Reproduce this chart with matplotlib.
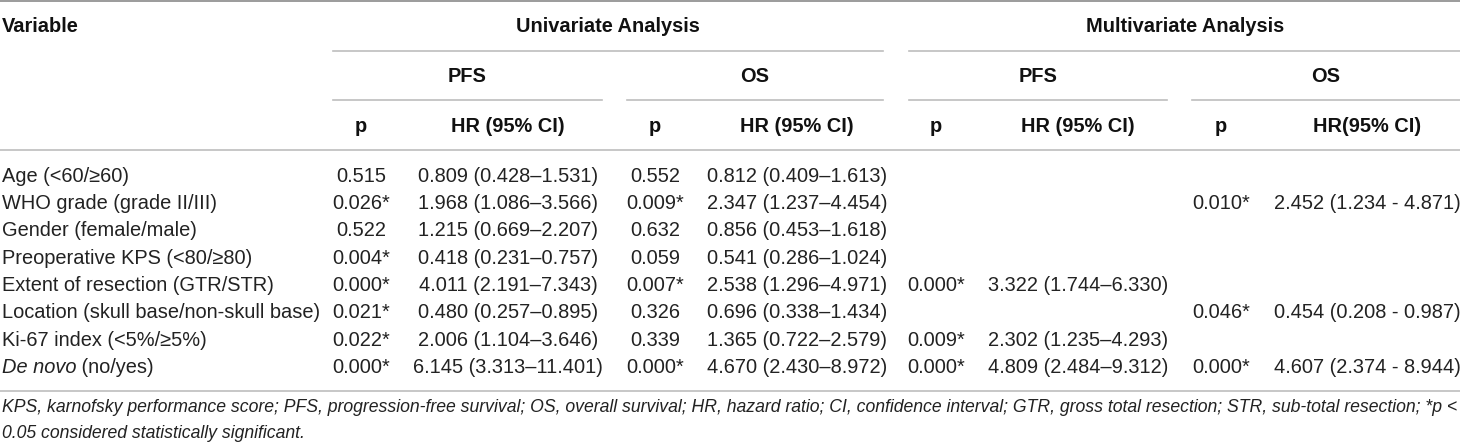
import matplotlib
matplotlib.use("Agg")
import matplotlib.pyplot as plt

plt.rcParams['font.family'] = ['Liberation Sans', 'DejaVu Sans']

variables = ["Age (<60/≥60)", "WHO grade (grade II/III)", "Gender (female/male)",
             "Preoperative KPS (<80/≥80)", "Extent of resection (GTR/STR)",
             "Location (skull base/non-skull base)", "Ki-67 index (<5%/≥5%)", "De novo"]
uni_pfs_p = ["0.515", "0.026*", "0.522", "0.004*", "0.000*", "0.021*", "0.022*", "0.000*"]
uni_pfs_hr = ["0.809 (0.428–1.531)", "1.968 (1.086–3.566)", "1.215 (0.669–2.207)",
              "0.418 (0.231–0.757)", "4.011 (2.191–7.343)", "0.480 (0.257–0.895)",
              "2.006 (1.104–3.646)", "6.145 (3.313–11.401)"]
uni_os_p = ["0.552", "0.009*", "0.632", "0.059", "0.007*", "0.326", "0.339", "0.000*"]
uni_os_hr = ["0.812 (0.409–1.613)", "2.347 (1.237–4.454)", "0.856 (0.453–1.618)",
             "0.541 (0.286–1.024)", "2.538 (1.296–4.971)", "0.696 (0.338–1.434)",
             "1.365 (0.722–2.579)", "4.670 (2.430–8.972)"]
multi_pfs_p = ["", "", "", "", "0.000*", "", "0.009*", "0.000*"]
multi_pfs_hr = ["", "", "", "", "3.322 (1.744–6.330)", "", "2.302 (1.235–4.293)",
                "4.809 (2.484–9.312)"]
multi_os_p = ["", "0.010*", "", "", "", "0.046*", "", "0.000*"]
multi_os_hr = ["", "2.452 (1.234 - 4.871)", "", "", "", "0.454 (0.208 - 0.987)", "",
               "4.607 (2.374 - 8.944)"]
col_heads = ["p", "HR (95% CI)", "p", "HR (95% CI)", "p", "HR (95% CI)", "p", "HR(95% CI)"]
footnote = ["KPS, karnofsky performance score; PFS, progression-free survival; OS, overall survival; "
            "HR, hazard ratio; CI, confidence interval; GTR, gross total resection; STR, sub-total resection; *p <",
            "0.05 considered statistically significant."]

columns = [uni_pfs_p, uni_pfs_hr, uni_os_p, uni_os_hr,
           multi_pfs_p, multi_pfs_hr, multi_os_p, multi_os_hr]
col_x = [361, 508, 655, 797, 936, 1078, 1221, 1367]

fs = 14.4
txt = '#222222'

fig = plt.figure(figsize=(14.6, 4.48), dpi=100)
ax = fig.add_axes([0, 0, 1, 1])
ax.set_xlim(0, 1460)
ax.set_ylim(448, 0)
ax.axis('off')

# rules
ax.plot([0, 1460], [1, 1], color='#8a8a8a', lw=1.2)
ax.plot([0, 1460], [150, 150], color='#bdbdbd', lw=1.2)
ax.plot([0, 1460], [391, 391], color='#bdbdbd', lw=1.2)
for x0, x1 in [(333, 883), (909, 1460)]:
    ax.plot([x0, x1], [51, 51], color='#bdbdbd', lw=1.2)
for x0, x1 in [(333, 602), (627, 883), (909, 1167), (1192, 1460)]:
    ax.plot([x0, x1], [100, 100], color='#bdbdbd', lw=1.2)

# headers
hd = dict(fontsize=fs, fontweight='bold', va='center', color='#111111')
ax.text(2, 27, "Variable", ha='left', **hd)
ax.text(608, 27, "Univariate Analysis", ha='center', **hd)
ax.text(1185, 27, "Multivariate Analysis", ha='center', **hd)
for x, s in zip([467, 755, 1038, 1326], ["PFS", "OS", "PFS", "OS"]):
    ax.text(x, 77, s, ha='center', **hd)
for x, s in zip(col_x, col_heads):
    ax.text(x, 127, s, ha='center', **hd)

# body
row_y = [176 + 27.4 * i for i in range(len(variables))]
fig.canvas.draw()
r = fig.canvas.get_renderer()
for i, (name, y) in enumerate(zip(variables, row_y)):
    if name == "De novo":
        t = ax.text(2, y, name, ha='left', va='center', fontsize=fs, style='italic', color=txt)
        bb = t.get_window_extent(renderer=r)
        x_end = ax.transData.inverted().transform((bb.x1, 0))[0]
        ax.text(x_end, y, " (no/yes)", ha='left', va='center', fontsize=fs, color=txt)
    else:
        ax.text(2, y, name, ha='left', va='center', fontsize=fs, color=txt)
    for x, col in zip(col_x, columns):
        if col[i]:
            ax.text(x, y, col[i], ha='center', va='center', fontsize=fs, color=txt)

# footnote: shrink so the first line ends near the right edge like the reference
probe = ax.text(2, 408, footnote[0], ha='left', va='center', fontsize=fs, style='italic')
w = probe.get_window_extent(renderer=r).width
probe.remove()
fn_fs = fs * 1454 / w
for y, line in zip([408, 434], footnote):
    ax.text(2, y, line, ha='left', va='center', fontsize=fn_fs, style='italic', color=txt)

fig.savefig("out.png", dpi=100)
